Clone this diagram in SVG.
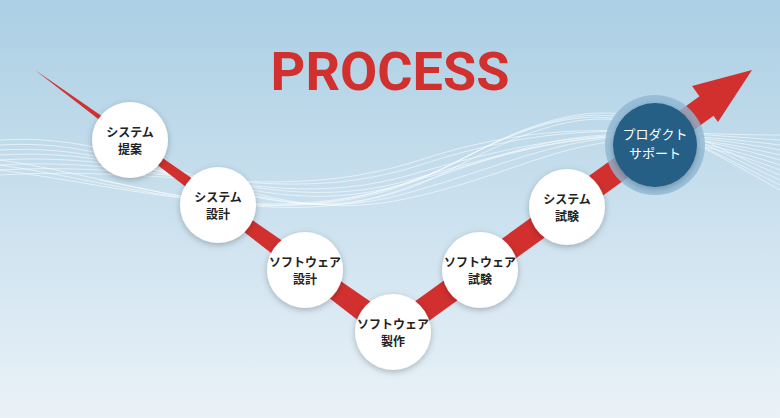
<svg xmlns="http://www.w3.org/2000/svg" width="780" height="418" viewBox="0 0 780 418">
<defs>
<linearGradient id="bg" x1="0" y1="0" x2="0" y2="1"><stop offset="0" stop-color="#abcfe4"/><stop offset="1" stop-color="#eaf2f8"/></linearGradient>
<filter id="sh" x="-30%" y="-30%" width="160%" height="160%"><feDropShadow dx="0" dy="2" stdDeviation="3" flood-color="#000" flood-opacity="0.25"/></filter>
</defs>
<style>
.w{fill:none;stroke:#fff;stroke-width:0.8;opacity:0.7}
.n{fill:#fff;filter:url(#sh)}
.t{font-family:"Noto Sans CJK JP","Noto Sans",sans-serif;font-size:12px;font-weight:bold;fill:#222;text-anchor:middle}
</style>
<rect width="780" height="418" fill="url(#bg)"/>
<g id="waves">
<path class="w" d="M0,140 C150,130 250,230 400,200 S600,100 780,170"/>
<path class="w" d="M0,145 C150,135 250,235 400,195 S600,105 780,165"/>
<path class="w" d="M0,150 C160,140 260,240 400,190 S610,110 780,160"/>
<path class="w" d="M0,155 C160,145 260,225 400,185 S610,115 780,155"/>
<path class="w" d="M0,160 C170,150 270,220 410,180 S620,120 780,150"/>
<path class="w" d="M0,165 C170,155 270,215 410,175 S620,125 780,145"/>
<path class="w" d="M0,170 C180,160 280,210 420,165 S630,130 780,140"/>
<path class="w" d="M0,175 C180,165 280,205 420,160 S630,135 780,135"/>
<path class="w" d="M0,160 C140,180 300,250 450,170 S640,110 780,190"/>
<path class="w" d="M0,165 C140,185 300,245 450,165 S640,115 780,185"/>
<path class="w" d="M0,170 C150,190 310,240 460,160 S650,120 780,180"/>
<path class="w" d="M100,180 C200,200 320,235 470,155 S660,125 780,175"/>
</g>
<text x="390" y="90" font-family="Roboto,'Liberation Sans',sans-serif" font-size="54" font-weight="bold" fill="#d2302f" text-anchor="middle">PROCESS</text>
<g id="connectors">
<polygon points="35,70 400,322 386,342" fill="#d2302f"/>
<line x1="393" y1="332" x2="708" y2="105" stroke="#d2302f" stroke-width="24"/>
<polygon points="752,70 718,122 692,86" fill="#d2302f"/>
</g>
<g id="n1"><circle class="n" cx="130" cy="140" r="38"/><text class="t" x="130" y="137">システム</text><text class="t" x="130" y="154">提案</text></g>
<g id="n2"><circle class="n" cx="218" cy="205" r="38"/><text class="t" x="218" y="202">システム</text><text class="t" x="218" y="219">設計</text></g>
<g id="n3"><circle class="n" cx="305" cy="270" r="38"/><text class="t" x="305" y="267">ソフトウェア</text><text class="t" x="305" y="284">設計</text></g>
<g id="n4"><circle class="n" cx="393" cy="332" r="38"/><text class="t" x="393" y="329">ソフトウェア</text><text class="t" x="393" y="346">製作</text></g>
<g id="n5"><circle class="n" cx="480" cy="270" r="38"/><text class="t" x="480" y="267">ソフトウェア</text><text class="t" x="480" y="284">試験</text></g>
<g id="n6"><circle class="n" cx="567" cy="207" r="38"/><text class="t" x="567" y="204">システム</text><text class="t" x="567" y="221">試験</text></g>
<g id="n7"><circle cx="655" cy="145" r="50" fill="#8fb8d4" opacity="0.8"/><circle cx="655" cy="145" r="42" fill="#265f85" filter="url(#sh)"/><text class="t" x="655" y="139" style="fill:#fff;font-weight:normal;font-size:13px">プロダクト</text><text class="t" x="655" y="158" style="fill:#fff;font-weight:normal;font-size:13px">サポート</text></g>
</svg>
